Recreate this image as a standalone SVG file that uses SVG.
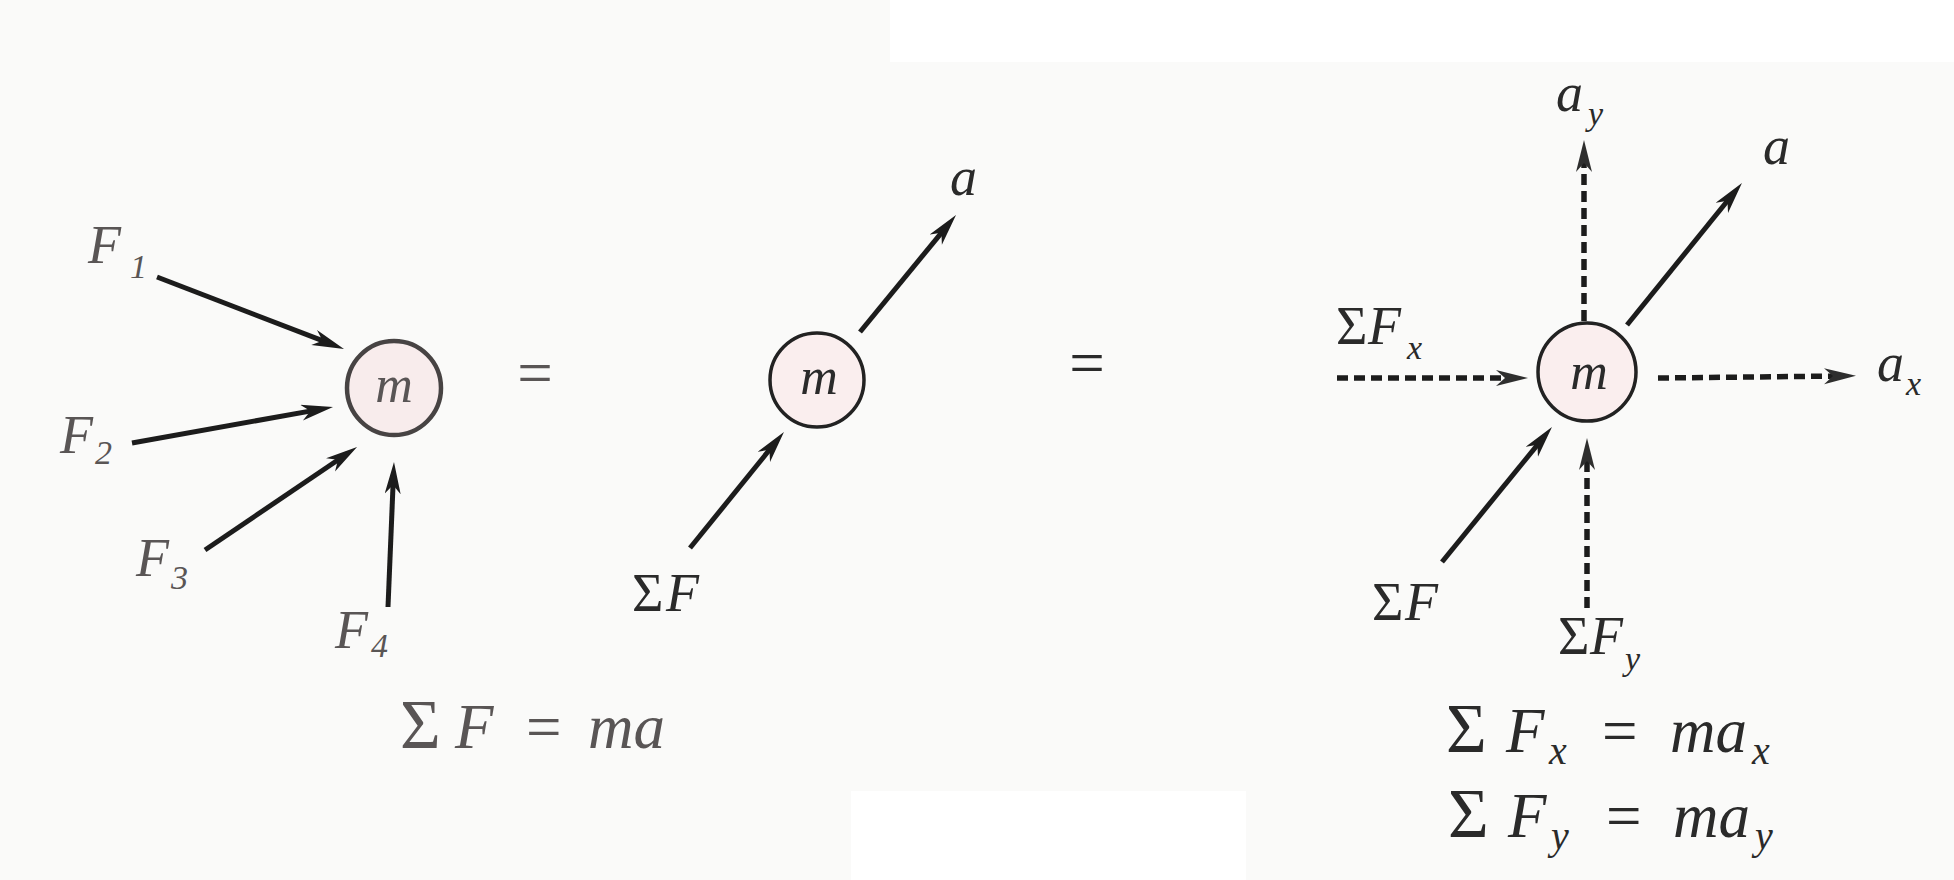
<svg xmlns="http://www.w3.org/2000/svg" width="1954" height="880" viewBox="0 0 1954 880">
<defs>
<style>
.t{font-family:"Liberation Serif","Times New Roman",serif;font-style:italic;fill:#2a2a2a}
.lbl{font-size:54px}
.lg{fill:#595555}
.sub{font-size:34px}
.eq{font-size:63px}
.esub{font-size:40px}
.sig{font-style:normal;font-size:70px}
.up{font-style:normal}
.mass{fill:#faeeee;stroke:#222;stroke-width:3.5}
.massl{fill:#f8ecec;stroke:#474343;stroke-width:4.5}
.mt{font-size:52px;text-anchor:middle}
.solid{stroke:#1c1c1c;stroke-width:5;fill:none;marker-end:url(#ah)}
.dash{stroke:#1c1c1c;stroke-width:5.5;fill:none;stroke-dasharray:11 6;marker-end:url(#ahd)}
</style>
<marker id="ah" markerUnits="userSpaceOnUse" markerWidth="34" markerHeight="18" refX="20" refY="8" orient="auto">
<path d="M0,0 L32,8 L0,16 L9,8 Z" fill="#1c1c1c"/>
</marker>
<marker id="ahd" markerUnits="userSpaceOnUse" markerWidth="34" markerHeight="18" refX="20" refY="8" orient="auto">
<path d="M0,0 L32,8 L0,16 L9,8 Z" fill="#2e2e2e"/>
</marker>
</defs>
<rect x="0" y="0" width="1954" height="880" fill="#fafaf9"/>
<rect x="890" y="0" width="1064" height="62" fill="#ffffff"/>
<rect x="851" y="791" width="395" height="89" fill="#ffffff"/>

<g id="connectors">
<line class="solid" x1="157" y1="277" x2="332.8" y2="344.7"/>
<line class="solid" x1="132" y1="443" x2="321.2" y2="409.1"/>
<line class="solid" x1="205" y1="550" x2="347.1" y2="453.7"/>
<line class="solid" x1="388" y1="607" x2="393.5" y2="474"/>
<line class="solid" x1="860" y1="332" x2="948.4" y2="224.3"/>
<line class="solid" x1="690" y1="548" x2="776.4" y2="441.3"/>
<line class="solid" x1="1627" y1="325" x2="1734.4" y2="192.3"/>
<line class="solid" x1="1442" y1="562" x2="1544.4" y2="436.3"/>
<line class="dash" x1="1584" y1="321" x2="1584" y2="152"/>
<line class="dash" x1="1337" y1="378" x2="1516" y2="378"/>
<line class="dash" x1="1658" y1="378" x2="1844" y2="376"/>
<line class="dash" x1="1587" y1="608" x2="1587" y2="450"/>
</g>

<g id="mass-left">
<circle class="massl" cx="394" cy="388" r="47"/>
<text class="t mt lg" x="394" y="402">m</text>
</g>
<g id="label-F1"><text class="t lbl lg" x="88" y="263">F<tspan class="sub" x="130" y="278">1</tspan></text></g>
<g id="label-F2"><text class="t lbl lg" x="60" y="453">F<tspan class="sub" x="95" y="464">2</tspan></text></g>
<g id="label-F3"><text class="t lbl lg" x="136" y="576">F<tspan class="sub" x="171" y="589">3</tspan></text></g>
<g id="label-F4"><text class="t lbl lg" x="335" y="648">F<tspan class="sub" x="371" y="657">4</tspan></text></g>
<g id="equals-1"><text class="t eq up lg" x="535" y="394" text-anchor="middle">=</text></g>
<g id="eq-left"><text class="t eq lg" y="748"><tspan class="sig" x="400">Σ</tspan><tspan x="455">F</tspan><tspan class="up" x="526">=</tspan><tspan x="588">ma</tspan></text></g>

<g id="mass-mid">
<circle class="mass" cx="817" cy="380" r="47"/>
<text class="t mt" x="819" y="394">m</text>
</g>
<g id="label-a-mid"><text class="t lbl" x="950" y="195">a</text></g>
<g id="label-SF-mid"><text class="t lbl" y="611"><tspan class="up" x="632">Σ</tspan><tspan x="666">F</tspan></text></g>
<g id="equals-2"><text class="t eq up" x="1087" y="384" text-anchor="middle">=</text></g>

<g id="mass-right">
<circle class="mass" cx="1587" cy="372" r="49"/>
<text class="t mt" x="1589" y="389">m</text>
</g>
<g id="label-ay"><text class="t lbl" x="1556" y="111">a<tspan class="sub" x="1588" y="125">y</tspan></text></g>
<g id="label-a-right"><text class="t lbl" x="1763" y="164">a</text></g>
<g id="label-SFx"><text class="t lbl" y="344"><tspan class="up" x="1336">Σ</tspan><tspan x="1368">F</tspan><tspan class="sub" x="1407" y="359">x</tspan></text></g>
<g id="label-ax"><text class="t lbl" x="1877" y="381">a<tspan class="sub" x="1906" y="395">x</tspan></text></g>
<g id="label-SF-right"><text class="t lbl" y="620"><tspan class="up" x="1372">Σ</tspan><tspan x="1405">F</tspan></text></g>
<g id="label-SFy"><text class="t lbl" y="654"><tspan class="up" x="1558">Σ</tspan><tspan x="1590">F</tspan><tspan class="sub" x="1625" y="670">y</tspan></text></g>
<g id="eq-right">
<text class="t eq" y="752"><tspan class="sig" x="1446">Σ</tspan><tspan x="1506">F</tspan><tspan class="esub" x="1549" y="764">x</tspan><tspan class="up" x="1602" y="752">=</tspan><tspan x="1670">ma</tspan><tspan class="esub" x="1752" y="764">x</tspan></text>
<text class="t eq" y="837"><tspan class="sig" x="1448">Σ</tspan><tspan x="1508">F</tspan><tspan class="esub" x="1551" y="849">y</tspan><tspan class="up" x="1606" y="837">=</tspan><tspan x="1673">ma</tspan><tspan class="esub" x="1755" y="849">y</tspan></text>
</g>
</svg>
